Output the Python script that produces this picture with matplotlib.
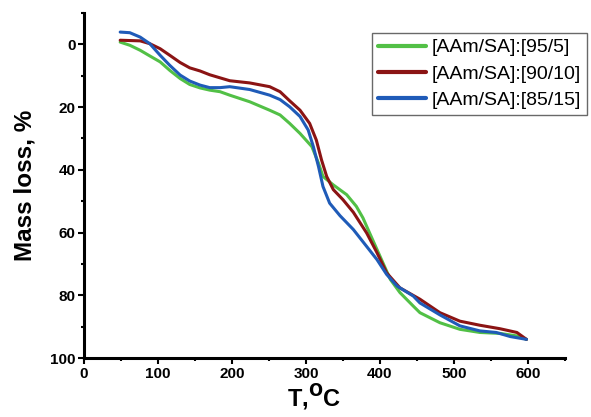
import matplotlib
matplotlib.use('Agg')
import matplotlib.pyplot as plt
from matplotlib.ticker import MultipleLocator

# data (temperature in C, mass loss in %)
t_95_5 = [49, 62, 76, 89, 103, 116, 130, 143, 157, 170, 184, 197, 224, 251, 265, 278,
          292, 308, 317, 323, 337, 355, 368, 377, 386, 400, 414, 427, 445, 454, 481,
          508, 535, 562, 585, 598]
m_95_5 = [-0.7, 0.3, 1.9, 3.7, 5.6, 8.3, 10.9, 12.8, 13.9, 14.6, 15.1, 16.2, 18.3, 21.0,
          22.5, 25.2, 28.4, 32.6, 37.9, 42.1, 44.8, 47.9, 51.6, 55.3, 60.1, 67.5, 74.9,
          79.1, 83.4, 85.5, 88.7, 90.8, 91.8, 92.1, 92.9, 94.0]

t_90_10 = [49, 76, 89, 103, 116, 130, 143, 157, 170, 197, 224, 251, 265, 278, 292, 305,
           314, 321, 328, 337, 350, 364, 382, 396, 409, 427, 454, 481, 508, 535, 562,
           585, 598]
m_90_10 = [-1.3, -1.1, -0.2, 1.4, 3.5, 5.8, 7.5, 8.5, 9.7, 11.6, 12.3, 13.5, 15.1, 18.0,
           21.0, 25.2, 30.5, 36.8, 42.1, 46.3, 49.5, 53.5, 60.1, 66.4, 72.8, 77.6, 81.2,
           85.5, 88.2, 89.5, 90.6, 91.8, 94.0]

t_85_15 = [49, 62, 76, 89, 103, 116, 130, 143, 157, 170, 184, 197, 224, 251, 265, 278,
           292, 303, 310, 317, 323, 332, 346, 364, 382, 396, 409, 423, 445, 454, 481,
           508, 535, 557, 576, 598]
m_85_15 = [-3.9, -3.7, -2.3, -0.2, 3.5, 6.7, 9.8, 11.7, 13.0, 13.8, 13.8, 13.5, 14.4, 16.2,
           17.6, 19.9, 23.0, 27.3, 32.6, 39.0, 45.3, 50.6, 54.6, 59.0, 64.4, 68.6, 73.3,
           77.0, 80.2, 82.4, 86.2, 89.7, 91.3, 91.8, 93.1, 94.0]

labels = ['[AAm/SA]:[95/5]', '[AAm/SA]:[90/10]', '[AAm/SA]:[85/15]']
colors = ['#52c046', '#8b1414', '#1f5bb8']

plt.rcParams['font.family'] = ['Liberation Sans', 'DejaVu Sans']

fig = plt.figure(figsize=(5.91, 4.17), dpi=100)
ax = fig.add_axes([0.142, 0.141, 0.814, 0.828])

series = [(t_95_5, m_95_5), (t_90_10, m_90_10), (t_85_15, m_85_15)]
for (t, m), lab, c in zip(series, labels, colors):
    ax.plot(t, m, color=c, lw=2.2, label=lab, solid_capstyle='round',
            solid_joinstyle='round')

ax.set_xlim(0, 650)
ax.set_ylim(100, -10)
ax.xaxis.set_minor_locator(MultipleLocator(50))
ax.yaxis.set_major_locator(MultipleLocator(20))
ax.yaxis.set_minor_locator(MultipleLocator(10))
ax.set_xticks([0, 100, 200, 300, 400, 500, 600])

# only left and bottom spines, thick like the original
ax.spines['top'].set_visible(False)
ax.spines['right'].set_visible(False)
ax.spines['left'].set_linewidth(2.2)
ax.spines['bottom'].set_linewidth(2.2)
ax.tick_params(which='major', direction='out', length=4, width=1.5, labelsize=11, pad=2)
ax.tick_params(which='minor', direction='out', length=2.5, width=1.5)
for lab in ax.get_xticklabels() + ax.get_yticklabels():
    lab.set_fontweight('bold')

ax.set_xlabel(r'T,$\mathbf{^{O}}$C', fontsize=17, fontweight='bold')
ax.xaxis.set_label_coords((314 - 84) / 481, -0.07)
ax.set_ylabel('Mass loss, %', fontsize=17.5, fontweight='bold', labelpad=10)

leg = ax.legend(loc='upper left', bbox_to_anchor=(372 / 591, 1 - 33 / 417),
                bbox_transform=fig.transFigure, fontsize=14,
                frameon=True, fancybox=False, handlelength=2.5, handletextpad=0.25,
                borderpad=0.3, labelspacing=0.45, borderaxespad=0)
leg.get_frame().set_edgecolor('#444444')
leg.get_frame().set_linewidth(1.0)
for line in leg.get_lines():
    line.set_linewidth(3)

fig.savefig('out.png', dpi=100)
